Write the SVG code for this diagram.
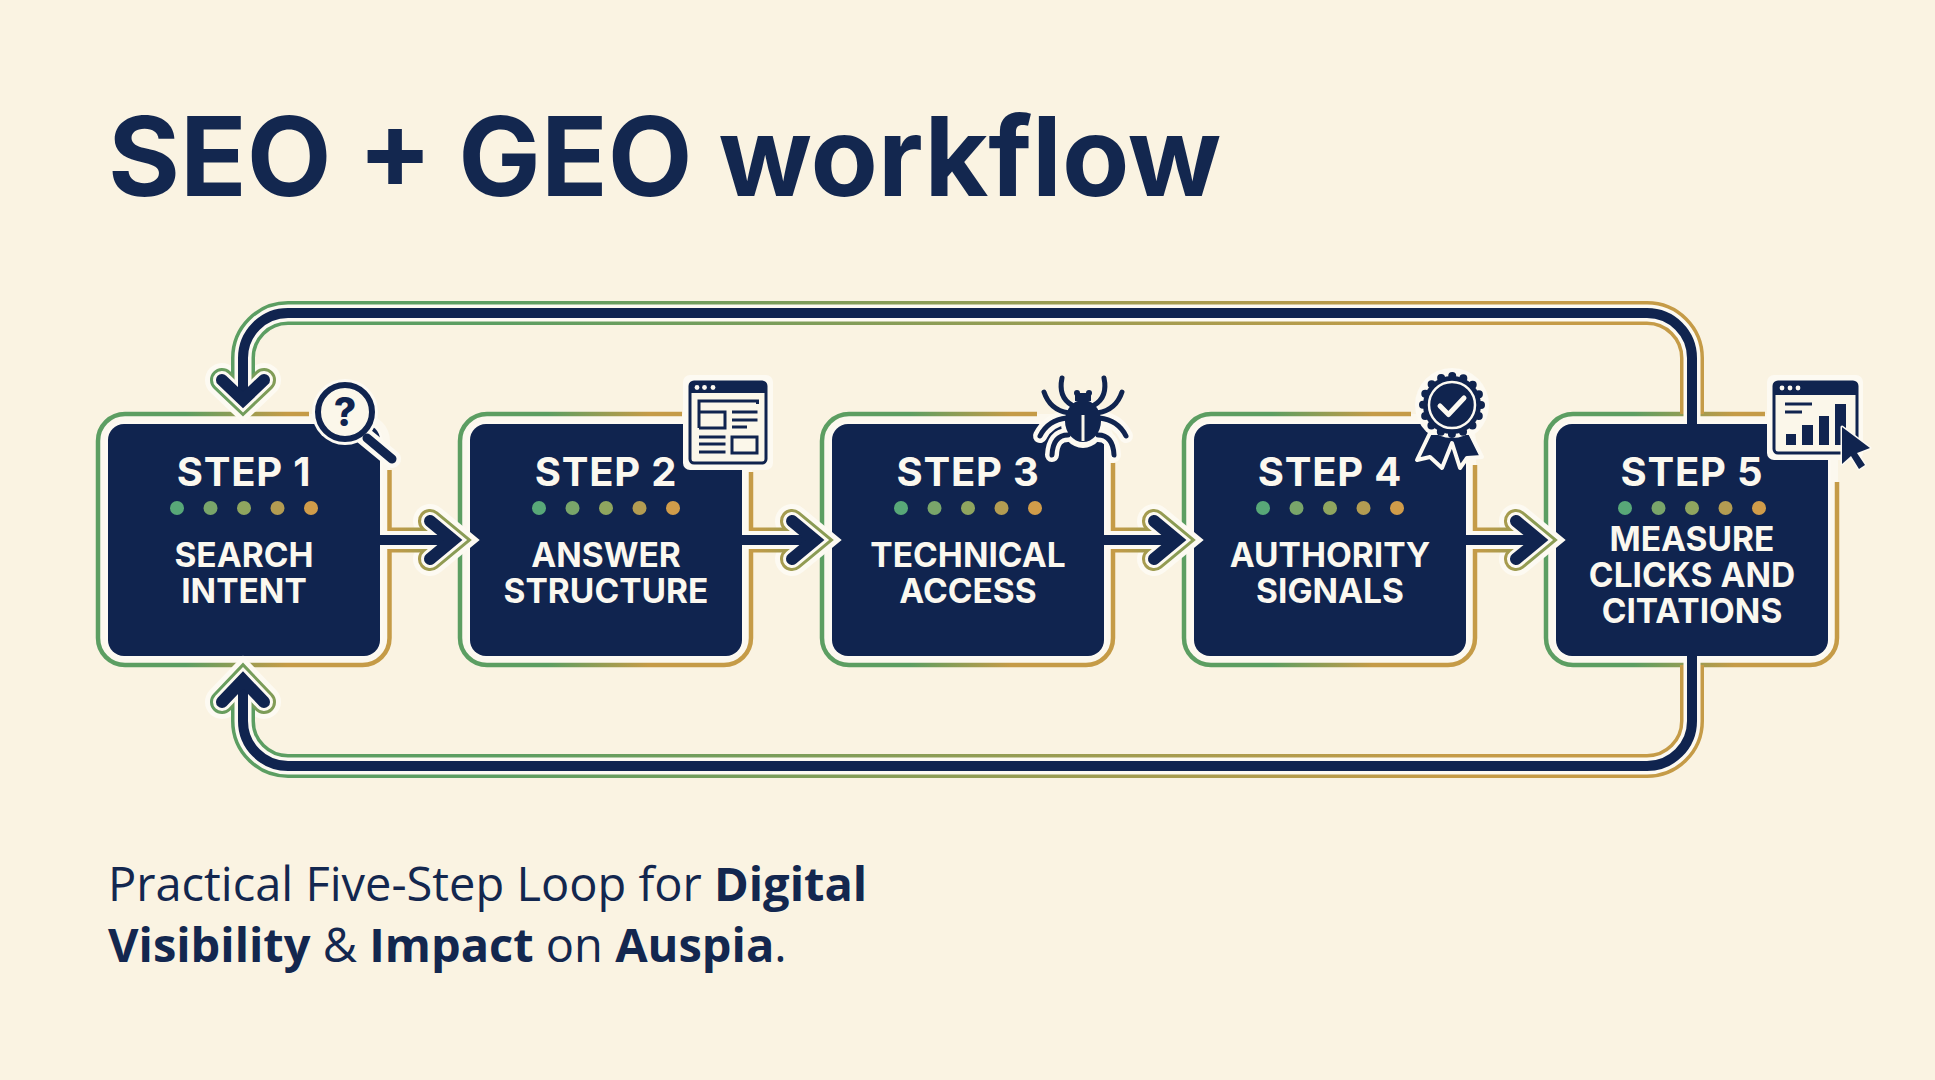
<svg xmlns="http://www.w3.org/2000/svg" width="1935" height="1080" viewBox="0 0 1935 1080">
<style>
.title{font:700 110px Inter,"Liberation Sans",sans-serif;fill:#13274f}
.sub{font:400 47px "Open Sans","Noto Sans",sans-serif;fill:#13274f}
.sub tspan{font-weight:700}
.box{fill:#10244f;stroke:#fdfaf2;stroke-width:5;paint-order:stroke}
.under{fill:#fcf8ee}
.ring{fill:none;stroke-width:4.5;stroke-linecap:butt}
.step{font:700 40px Inter,"Liberation Sans",sans-serif;letter-spacing:.8px;fill:#fbf8ef;text-anchor:middle}
.lab{font:700 33.500px Inter,"Liberation Sans",sans-serif;fill:#fbf8ef;text-anchor:middle}
.nv{stroke:#10244f;fill:none}
.hl{stroke:#fdfaf2;fill:none}
.bar-o{stroke-width:25}.bar-w{stroke-width:18}.bar-n{stroke-width:10}
.ch{stroke-linejoin:miter;stroke-linecap:round;stroke-miterlimit:6;fill:none}
.ch-h{stroke-width:34;stroke:#fdfaf2}.ch-o{stroke-width:24}.ch-w{stroke-width:18;stroke:#fdfaf2}.ch-n{stroke-width:12;stroke:#10244f}
.ln{stroke:#10244f;stroke-width:3;fill:none}
.win{fill:#fbf7ea;stroke:#10244f;stroke-width:3}
.bar{fill:#10244f}
</style>
<defs>
<linearGradient id="rg" x1="0" x2="1" y1="0" y2="0"><stop offset="0.3" stop-color="#5c9e62"/><stop offset="0.65" stop-color="#c59b47"/></linearGradient>
<linearGradient id="cg" gradientUnits="userSpaceOnUse" x1="390" x2="470" y1="0" y2="0"><stop offset="0" stop-color="#c59b47"/><stop offset="0.75" stop-color="#8a9c55"/></linearGradient>
<linearGradient id="lg" gradientUnits="userSpaceOnUse" x1="500" x2="1450" y1="0" y2="0"><stop offset="0" stop-color="#5c9e62"/><stop offset="1" stop-color="#c59b47"/></linearGradient>
<linearGradient id="ag" gradientUnits="userSpaceOnUse" x1="200" x2="290" y1="0" y2="0"><stop offset="0" stop-color="#5c9e62"/><stop offset="1" stop-color="#8a9c55"/></linearGradient>
<g id="dots">
<circle cx="-67" cy="508" r="7" fill="#58a878"/><circle cx="-33.500" cy="508" r="7" fill="#79a56a"/><circle cx="0" cy="508" r="7" fill="#8fa55f"/><circle cx="33.500" cy="508" r="7" fill="#b39c52"/><circle cx="67" cy="508" r="7" fill="#d09c4a"/>
</g>
<g id="step-arrow" fill="none">
<path class="ch ch-h" d="M430 521L453 540L430 559"/>
<path stroke="url(#cg)" class="bar-o" d="M390 540H440"/>
<path class="ch ch-o" stroke="url(#cg)" d="M430 521L453 540L430 559"/>
<path class="hl bar-w" d="M380 540H445"/>
<path class="ch ch-w" d="M430 521L453 540L430 559"/>
<path class="nv bar-n" d="M380 540H450"/>
<path class="ch ch-n" d="M430 521L453 540L430 559"/>
</g>
</defs>
<rect width="1935" height="1080" fill="#faf3e2"/>
<text class="title" x="108" y="196">SEO + GEO workflow</text>
<text class="sub" x="108" y="901">Practical Five-Step Loop for <tspan>Digital</tspan></text>
<text class="sub" x="108" y="962"><tspan>Visibility</tspan> &amp; <tspan>Impact</tspan> on <tspan>Auspia</tspan>.</text>

<g id="node-1">
<rect class="under" x="98" y="414" width="292" height="251" rx="27"/>
<path class="ring" stroke="url(#rg)" d="M309 414H125A27 27 0 0 0 98 441V638A27 27 0 0 0 125 665H362.500A27 27 0 0 0 389.500 638V470"/>
<rect class="box" x="108" y="424" width="272" height="232" rx="16"/>
<text class="step" x="244" y="486">STEP 1</text>
<use href="#dots" x="244"/>
<text class="lab" x="244" y="567">SEARCH</text>
<text class="lab" x="244" y="603">INTENT</text>
<g id="icon-search">
<line x1="364" y1="436" x2="392" y2="459" class="hl" stroke-width="18" stroke-linecap="round"/>
<circle cx="345" cy="412" r="33" fill="#fdfaf2"/>
<circle cx="345" cy="412" r="27" fill="#fbf7ea" stroke="#10244f" stroke-width="6"/>
<line x1="367" y1="438" x2="392" y2="459" stroke="#10244f" stroke-width="9" stroke-linecap="round"/>
<text x="345" y="426" font-family="Inter,'Liberation Sans',sans-serif" font-weight="800" font-size="39" fill="#10244f" text-anchor="middle">?</text>
</g>
</g>

<g id="node-2">
<rect class="under" x="460" y="414" width="292" height="251" rx="27"/>
<path class="ring" stroke="url(#rg)" d="M682 414H487A27 27 0 0 0 460 441V638A27 27 0 0 0 487 665H724A27 27 0 0 0 751 638V472"/>
<rect class="box" x="470" y="424" width="272" height="232" rx="16"/>
<text class="step" x="606" y="486">STEP 2</text>
<use href="#dots" x="606"/>
<text class="lab" x="606" y="567">ANSWER</text>
<text class="lab" x="606" y="603">STRUCTURE</text>
<g id="icon-page">
<rect x="683" y="375" width="90" height="95" rx="7" fill="#fdfaf2"/>
<rect class="win" x="690" y="382" width="76" height="81" rx="4"/>
<path class="bar" d="M690 393V386a4 4 0 0 1 4-4H762a4 4 0 0 1 4 4V393Z"/>
<circle cx="697" cy="387.500" r="2.400" fill="#fdfaf2"/><circle cx="704.500" cy="387.500" r="2.400" fill="#fdfaf2"/><circle cx="713" cy="387.500" r="2.400" fill="#fdfaf2"/>
<path class="ln" d="M699 428V401H757.500V404M699 412H725V428H699M732 412H757.500M732 420H757.500M732 427H747M699 437H725.500M699 444H725.500M699 452H725.500"/>
<rect class="ln" x="732" y="437" width="25" height="16"/>
</g>
</g>

<g id="node-3">
<rect class="under" x="822" y="414" width="292" height="251" rx="27"/>
<path class="ring" stroke="url(#rg)" d="M1037 414H849A27 27 0 0 0 822 441V638A27 27 0 0 0 849 665H1086A27 27 0 0 0 1113 638V463"/>
<rect class="box" x="832" y="424" width="272" height="232" rx="16"/>
<text class="step" x="968" y="486">STEP 3</text>
<use href="#dots" x="968"/>
<text class="lab" x="968" y="567">TECHNICAL</text>
<text class="lab" x="968" y="603">ACCESS</text>
<g id="icon-bug">
<g fill="none" stroke="#fdfaf2" stroke-width="14" stroke-linecap="round">
<path d="M1066 418Q1048 420 1040 436M1068 435Q1053 435 1052 455"/>
<path d="M1100 418Q1118 420 1126 436M1098 435Q1113 435 1114 455"/>
</g>
<ellipse cx="1083" cy="423" rx="22" ry="25" fill="#fdfaf2"/>
<g fill="none" stroke="#10244f" stroke-width="5" stroke-linecap="round">
<path d="M1071.700 405Q1058 397 1062 378M1068 412.700Q1050 410 1044 392M1066.700 418Q1048 420 1040 436M1068 435Q1053 435 1052 455"/>
<path d="M1094.300 405Q1108 397 1104 378M1098 412.700Q1116 410 1122 392M1099.300 418Q1118 420 1126 436M1098 435Q1113 435 1114 455"/>
</g>
<ellipse cx="1083" cy="421" rx="18" ry="21" fill="#10244f"/>
<circle cx="1077" cy="393" r="3" fill="#10244f"/><circle cx="1089" cy="393" r="3" fill="#10244f"/>
<rect x="1075" y="393" width="16" height="8" fill="#10244f"/>
<line x1="1083" y1="415" x2="1083" y2="441" stroke="#fbf7ea" stroke-width="3"/>
</g>
</g>

<g id="node-4">
<rect class="under" x="1184" y="414" width="292" height="251" rx="27"/>
<path class="ring" stroke="url(#rg)" d="M1411 414H1211A27 27 0 0 0 1184 441V638A27 27 0 0 0 1211 665H1448A27 27 0 0 0 1475 638V465"/>
<rect class="box" x="1194" y="424" width="272" height="232" rx="16"/>
<text class="step" x="1330" y="486">STEP 4</text>
<use href="#dots" x="1330"/>
<text class="lab" x="1330" y="567">AUTHORITY</text>
<text class="lab" x="1330" y="603">SIGNALS</text>
<g id="icon-badge">
<circle cx="1452" cy="405" r="37" fill="#fdfaf2"/>
<path d="M1430 433L1417 460L1430 457L1442 468L1452 443L1460 468L1467 458L1482 457L1470 433Z" fill="#10244f" stroke="#fdfaf2" stroke-width="4" stroke-linejoin="round"/>
<circle cx="1452" cy="405" r="33" fill="#fdfaf2"/>
<circle cx="1452" cy="405" r="29" fill="#10244f"/>
<circle cx="1452" cy="405" r="29" fill="none" stroke="#10244f" stroke-width="8" stroke-linecap="round" stroke-dasharray="0 11.390"/>
<circle cx="1452" cy="405" r="23" fill="none" stroke="#fdfaf2" stroke-width="2.500"/>
<path d="M1440 406L1448.500 414.500L1464 398" fill="none" stroke="#fdfaf2" stroke-width="5" stroke-linecap="round" stroke-linejoin="round"/>
</g>
</g>

<g id="node-5">
<rect class="under" x="1546" y="414" width="292" height="251" rx="27"/>
<path class="ring" stroke="url(#rg)" d="M1765 414H1573A27 27 0 0 0 1546 441V638A27 27 0 0 0 1573 665H1810A27 27 0 0 0 1837 638V482"/>
<rect class="box" x="1556" y="424" width="272" height="232" rx="16"/>
<text class="step" x="1692" y="486">STEP 5</text>
<use href="#dots" x="1692"/>
<text class="lab" x="1692" y="551">MEASURE</text>
<text class="lab" x="1692" y="587">CLICKS AND</text>
<text class="lab" x="1692" y="623">CITATIONS</text>
<g id="icon-chart">
<rect x="1767" y="375" width="96" height="85" rx="7" fill="#fdfaf2"/>
<rect class="win" x="1774" y="382" width="83" height="71" rx="4"/>
<path class="bar" d="M1774 395V386a4 4 0 0 1 4-4H1853a4 4 0 0 1 4 4V395Z"/>
<circle cx="1782" cy="388" r="2.400" fill="#fdfaf2"/><circle cx="1790" cy="388" r="2.400" fill="#fdfaf2"/><circle cx="1798" cy="388" r="2.400" fill="#fdfaf2"/>
<path class="ln" d="M1785 404H1812M1785 412H1802"/>
<rect class="bar" x="1786" y="434" width="10" height="11"/><rect class="bar" x="1802" y="425" width="11" height="20"/><rect class="bar" x="1819" y="416" width="10" height="29"/><rect class="bar" x="1835" y="404" width="11" height="41"/>
<path d="M1842 427L1870 448L1857 453L1865 465L1859 469L1851 456L1842 464Z" fill="#10244f" stroke="#fdfaf2" stroke-width="3" stroke-linejoin="round" paint-order="stroke"/>
</g>
</g>

<g id="connectors" fill="none">
<use id="conn-1-2" href="#step-arrow"/>
<use id="conn-2-3" href="#step-arrow" x="362"/>
<use id="conn-3-4" href="#step-arrow" x="724"/>
<use id="conn-4-5" href="#step-arrow" x="1086"/>
<g id="loop-top">
<path class="ch ch-h" d="M222 380L243 400L264 380"/>
<path stroke="url(#lg)" stroke-width="24" d="M1692 414V358A45 45 0 0 0 1647 313H288A45 45 0 0 0 243 358V385"/>
<path class="ch ch-o" stroke="url(#ag)" d="M222 380L243 400L264 380"/>
<path class="hl" stroke-width="17" d="M1692 424V358A45 45 0 0 0 1647 313H288A45 45 0 0 0 243 358V390"/>
<path class="ch ch-w" d="M222 380L243 400L264 380"/>
<path class="nv" stroke-width="10" d="M1692 424V358A45 45 0 0 0 1647 313H288A45 45 0 0 0 243 358V398"/>
<path class="ch ch-n" d="M222 380L243 400L264 380"/>
</g>
<g id="loop-bottom">
<path class="ch ch-h" d="M222 702L243 680L264 702"/>
<path stroke="url(#lg)" stroke-width="24" d="M1692 665V721A45 45 0 0 1 1647 766H288A45 45 0 0 1 243 721V695"/>
<path class="ch ch-o" stroke="url(#ag)" d="M222 702L243 680L264 702"/>
<path class="hl" stroke-width="17" d="M1692 656V721A45 45 0 0 1 1647 766H288A45 45 0 0 1 243 721V690"/>
<path class="ch ch-w" d="M222 702L243 680L264 702"/>
<path class="nv" stroke-width="10" d="M1692 656V721A45 45 0 0 1 1647 766H288A45 45 0 0 1 243 721V682"/>
<path class="ch ch-n" d="M222 702L243 680L264 702"/>
</g>
</g>
</svg>
